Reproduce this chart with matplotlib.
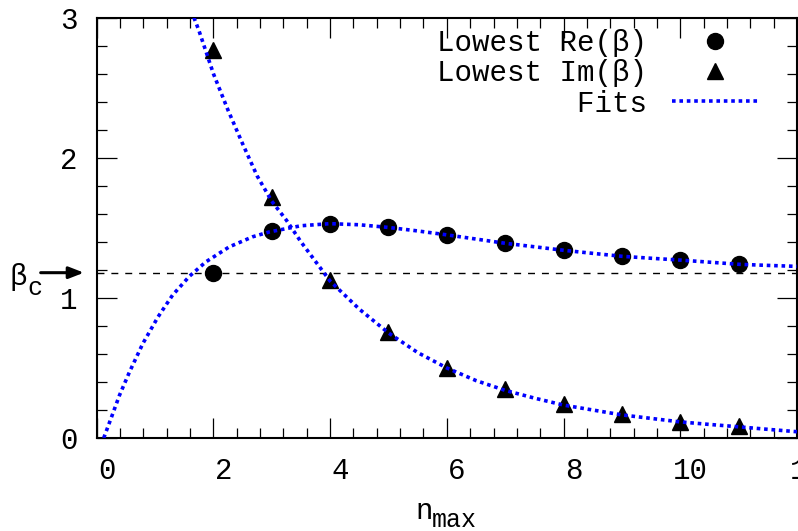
import matplotlib
matplotlib.use('Agg')
import matplotlib.pyplot as plt
import matplotlib.transforms as mtrans
from matplotlib.ticker import MultipleLocator

# lowest eigenvalues vs truncation n_max
n = [2, 3, 4, 5, 6, 7, 8, 9, 10, 11]
re_beta = [1.18, 1.476, 1.531, 1.503, 1.450, 1.39, 1.34, 1.297, 1.27, 1.24]
im_beta = [2.77, 1.72, 1.13, 0.76, 0.50, 0.35, 0.24, 0.17, 0.115, 0.083]

# fit curves
re_fit_n = [0.12, 0.245, 0.39, 0.56, 0.79, 1.05, 1.3, 1.59, 1.87, 2.27, 2.67, 2.96,
            3.5, 4, 4.5, 5, 5.5, 6, 6.5, 7, 7.5, 8, 8.5, 9, 9.5, 10, 10.5, 11, 11.5, 12]
re_fit = [0.0, 0.14, 0.305, 0.47, 0.674, 0.864, 1.02, 1.155, 1.257, 1.364, 1.436, 1.471,
          1.515, 1.53, 1.522, 1.503, 1.478, 1.45, 1.42, 1.39, 1.365, 1.34, 1.318, 1.297,
          1.283, 1.27, 1.255, 1.24, 1.232, 1.225]
im_fit_n = [1.62, 1.75, 2, 2.25, 2.5, 2.75, 3, 3.25, 3.5, 3.75, 4, 4.5, 5, 5.5, 6, 6.5,
            7, 7.5, 8, 8.5, 9, 9.5, 10, 10.5, 11, 11.5, 12]
im_fit = [3.05, 2.91, 2.60, 2.34, 2.10, 1.87, 1.69, 1.555, 1.40, 1.26, 1.12, 0.92, 0.75,
          0.61, 0.50, 0.41, 0.34, 0.285, 0.235, 0.2, 0.165, 0.14, 0.115, 0.097, 0.08,
          0.062, 0.045]

beta_c = 1.18

xticks = [0, 2, 4, 6, 8, 10, 12]
yticks = [0, 1, 2, 3]

plt.rcParams['font.family'] = ['Liberation Mono', 'DejaVu Sans Mono']
fs = 21
dots = (0, (1, 1.05))

fig = plt.figure(figsize=(7.98, 5.31), dpi=100)
ax = fig.add_axes([0.1212, 0.1751, 0.8775, 0.7916])

ax.axhline(beta_c, color='black', lw=1.0, ls=(0, (5, 5)), zorder=1)
ax.plot(n, re_beta, 'o', color='black', ms=11.5, label='Lowest Re(β)', zorder=3)
ax.plot(n, im_beta, '^', color='black', ms=11, label='Lowest Im(β)', zorder=3)
ax.plot(re_fit_n, re_fit, color='blue', lw=2.6, ls=dots, label='        Fits', zorder=4)
ax.plot(im_fit_n, im_fit, color='blue', lw=2.6, ls=dots, zorder=4)

ax.set_xlim(0, 12)
ax.set_ylim(0, 3)
ax.set_xticks(xticks)
ax.set_xticklabels([str(t) for t in xticks])
ax.set_yticks(yticks)
ax.set_yticklabels([str(t) for t in yticks])
ax.xaxis.set_minor_locator(MultipleLocator(0.4))
ax.yaxis.set_minor_locator(MultipleLocator(0.2))
ax.tick_params(which='both', direction='in', top=True, right=True, labelsize=fs, colors='black')
ax.tick_params(which='major', length=14.4, width=0.9)
ax.tick_params(which='minor', length=7.2, width=0.9)
ax.tick_params(axis='x', pad=14)
ax.tick_params(axis='y', pad=14)
for s in ax.spines.values():
  s.set_linewidth(1.5)

# gnuplot puts the x labels a bit to the right
shift = mtrans.ScaledTranslation(0.1, 0, fig.dpi_scale_trans)
for lab in ax.get_xticklabels():
  lab.set_transform(lab.get_transform() + shift)

leg = ax.legend(loc='upper right', bbox_to_anchor=(0.944, 0.973), frameon=False,
                markerfirst=False, fontsize=fs, handlelength=2.93, handletextpad=0.86,
                labelspacing=0.08, borderpad=0, borderaxespad=0)

# beta_c marker on the left
ax.annotate('', xy=(-0.0143, beta_c), xytext=(-0.084, beta_c),
            xycoords=ax.get_yaxis_transform(), textcoords=ax.get_yaxis_transform(),
            arrowprops=dict(arrowstyle='-|>,head_length=0.9,head_width=0.35',
                            color='black', lw=2.2), annotation_clip=False)
fig.text(9 / 798, 1 - 285 / 531, 'β', fontsize=fs, ha='left', va='baseline')
fig.text(27 / 798, 1 - 295 / 531, 'c', fontsize=18, ha='left', va='baseline')

fig.text(415 / 798, 1 - 519 / 531, 'n', fontsize=fs, ha='left', va='baseline')
fig.text(432 / 798, 1 - 527 / 531, 'max', fontsize=18, ha='left', va='baseline')

fig.savefig('out.png', dpi=100)
